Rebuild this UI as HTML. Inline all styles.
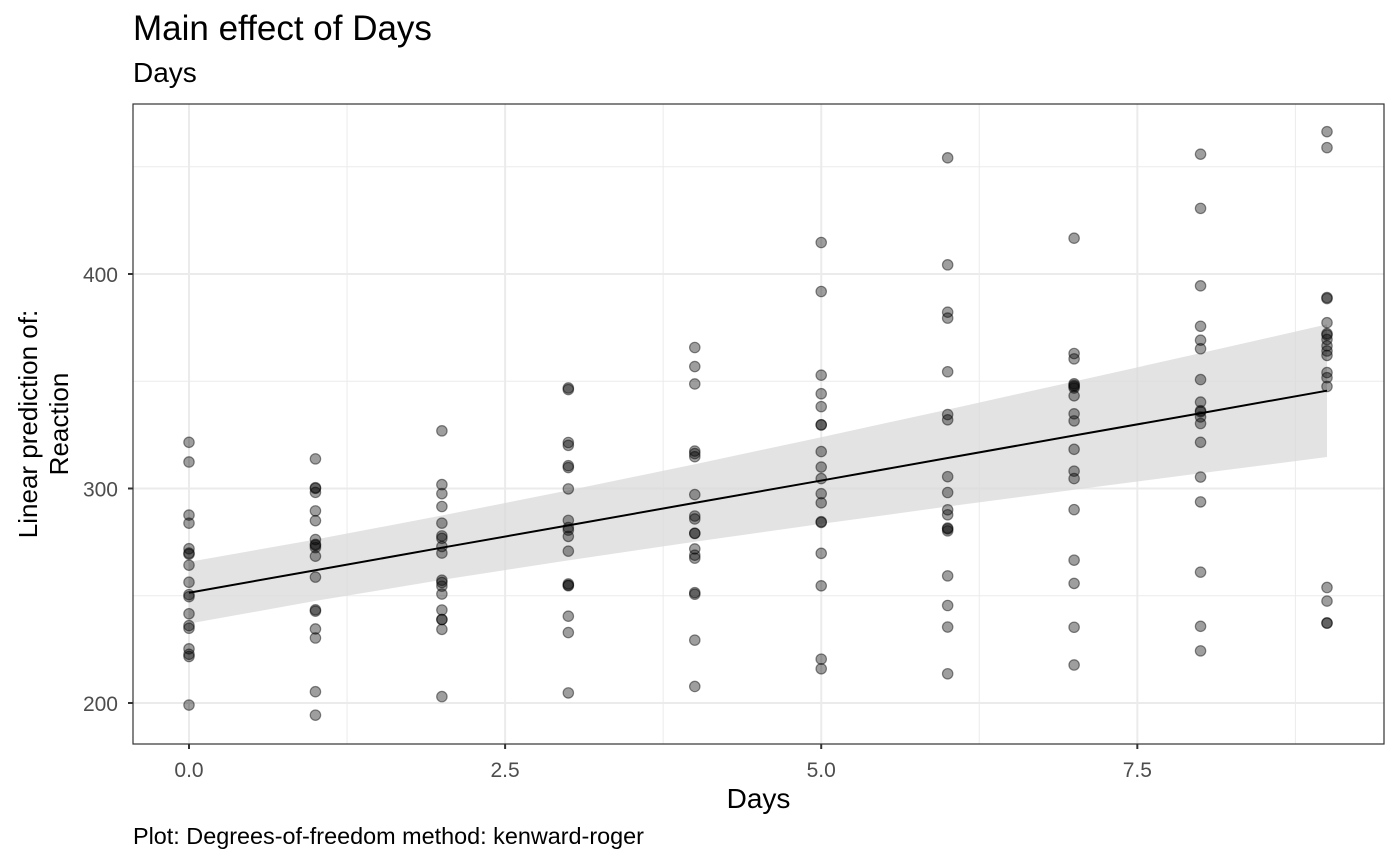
<!DOCTYPE html>
<html><head><meta charset="utf-8"><style>
body{margin:0;background:#fff;}
svg{display:block;font-family:"Liberation Sans",Arial,sans-serif;}
</style></head><body>
<svg id="chart" width="1400" height="866"></svg>
<script>
const days=[0,1,2,3,4,5,6,7,8,9];
const reactionBySubject=[
[249.56,258.70,250.80,321.44,356.85,414.69,382.20,290.15,430.59,466.35],
[222.73,205.27,202.98,204.71,207.72,215.96,213.63,217.73,224.30,237.31],
[199.05,194.33,234.32,232.84,229.31,220.46,235.42,255.75,261.01,247.52],
[321.54,300.40,283.86,285.13,285.80,297.59,280.24,318.26,305.35,354.05],
[287.61,285.00,301.82,320.12,316.28,293.32,290.08,334.82,293.75,371.58],
[234.86,242.81,272.96,309.77,317.46,310.00,454.16,346.83,330.30,253.86],
[283.84,289.56,276.77,299.81,297.17,338.17,332.03,348.84,333.36,362.04],
[264.25,276.20,243.36,254.67,279.02,284.19,305.52,331.52,335.75,377.30],
[241.61,273.95,254.49,270.80,251.45,254.64,245.45,235.31,235.75,237.25],
[312.37,313.81,291.61,346.12,365.73,391.84,404.26,416.69,455.86,458.92],
[236.10,230.32,238.93,254.92,250.71,269.77,281.56,308.10,336.28,351.65],
[256.30,243.45,256.20,255.53,268.92,329.72,379.44,362.92,394.49,389.05],
[250.53,300.06,269.89,280.59,271.83,304.63,287.75,266.60,321.54,347.57],
[221.68,298.19,326.88,346.86,348.74,352.83,354.43,360.43,375.64,388.54],
[271.92,268.44,257.24,277.66,314.82,317.21,298.14,348.12,340.28,366.51],
[225.26,234.52,238.90,240.47,267.54,344.19,281.15,347.59,365.16,372.23],
[269.88,272.44,277.90,281.79,279.17,284.51,259.27,304.63,350.78,369.47],
[269.41,273.47,297.60,310.63,287.17,329.61,334.48,343.22,369.14,364.12]];
const fitValues=[251.4,261.9,272.4,282.8,293.3,303.7,314.2,324.7,335.1,345.6];
const lowerCI=[237.0,247.6,257.4,266.5,275.2,283.5,291.6,299.4,307.1,314.7];
const upperCI=[265.8,276.2,287.4,299.1,311.3,323.9,336.8,349.9,363.1,376.5];
const xTicks=[0,2.5,5,7.5];
const xTickLabels=["0.0","2.5","5.0","7.5"];
const xMinor=[1.25,3.75,6.25,8.75];
const yTicks=[200,300,400];
const yMinor=[250,350,450];

const NS="http://www.w3.org/2000/svg";
const svg=document.getElementById('chart');
const L=133,R=1384,T=104,B=744;
const sx=v=>189+v*(1327-189)/9;
const sy=v=>703-(v-200)*(703-274)/200;
function mk(tag,attrs,parent){const e=document.createElementNS(NS,tag);for(const k in attrs)e.setAttribute(k,attrs[k]);(parent||svg).appendChild(e);return e;}
function txt(s,attrs,fs){const e=mk('text',attrs);e.style.fontSize=fs+'px';e.textContent=s;return e;}

let t=txt("Main effect of Days",{x:133,y:40,fill:'#000'},35);


t=txt("Days",{x:133,y:82,fill:'#000'},28);



const g=mk('g',{});


xMinor.forEach(v=>mk('line',{x1:sx(v),x2:sx(v),y1:T,y2:B,stroke:'#ebebeb','stroke-width':1},g));
yMinor.forEach(v=>mk('line',{x1:L,x2:R,y1:sy(v),y2:sy(v),stroke:'#ebebeb','stroke-width':1},g));
xTicks.forEach(v=>mk('line',{x1:sx(v),x2:sx(v),y1:T,y2:B,stroke:'#ebebeb','stroke-width':2},g));
yTicks.forEach(v=>mk('line',{x1:L,x2:R,y1:sy(v),y2:sy(v),stroke:'#ebebeb','stroke-width':2},g));

let pts=days.map((d,i)=>sx(d)+','+sy(upperCI[i]));
pts=pts.concat(days.slice().reverse().map((d,j)=>{const i=days.length-1-j;return sx(d)+','+sy(lowerCI[i]);}));
const rib=mk('polygon',{points:pts.join(' '),fill:'#d9d9d9','fill-opacity':0.75});



const pg=mk('g',{});


reactionBySubject.forEach(row=>row.forEach((v,i)=>{
  const c=mk('circle',{cx:sx(days[i]),cy:sy(v),r:5.2,fill:'#000','fill-opacity':0.38,stroke:'#000','stroke-opacity':0.45,'stroke-width':1.2},pg);
  
  
}));

const fl=mk('polyline',{points:days.map((d,i)=>sx(d)+','+sy(fitValues[i])).join(' '),fill:'none',stroke:'#000','stroke-width':2});



const fr=mk('rect',{x:L,y:T,width:R-L,height:B-T,fill:'none',stroke:'#333','stroke-width':1.2});



xTicks.forEach((v,i)=>{
  mk('line',{x1:sx(v),x2:sx(v),y1:B,y2:B+5,stroke:'#333','stroke-width':2});
  const e=txt(xTickLabels[i],{x:sx(v),y:B+33,fill:'#4d4d4d','text-anchor':'middle'},21);
  
  
});
yTicks.forEach(v=>{
  mk('line',{x1:L-5,x2:L,y1:sy(v),y2:sy(v),stroke:'#333','stroke-width':2});
  const e=txt(String(v),{x:L-15,y:sy(v)+8,fill:'#4d4d4d','text-anchor':'end'},21);
  
  
});
t=txt("Days",{x:(L+R)/2,y:808,fill:'#000','text-anchor':'middle'},28);


const yt=mk('text',{transform:'translate(0,424) rotate(-90)',fill:'#000','text-anchor':'middle'});
yt.style.fontSize='26px';


const s1=mk('tspan',{x:0,y:37},yt);s1.textContent="Linear prediction of:";
const s2=mk('tspan',{x:0,y:68},yt);s2.textContent="Reaction";
t=txt("Plot: Degrees-of-freedom method: kenward-roger",{x:133,y:844,fill:'#000'},23.4);


</script>
</body></html>
